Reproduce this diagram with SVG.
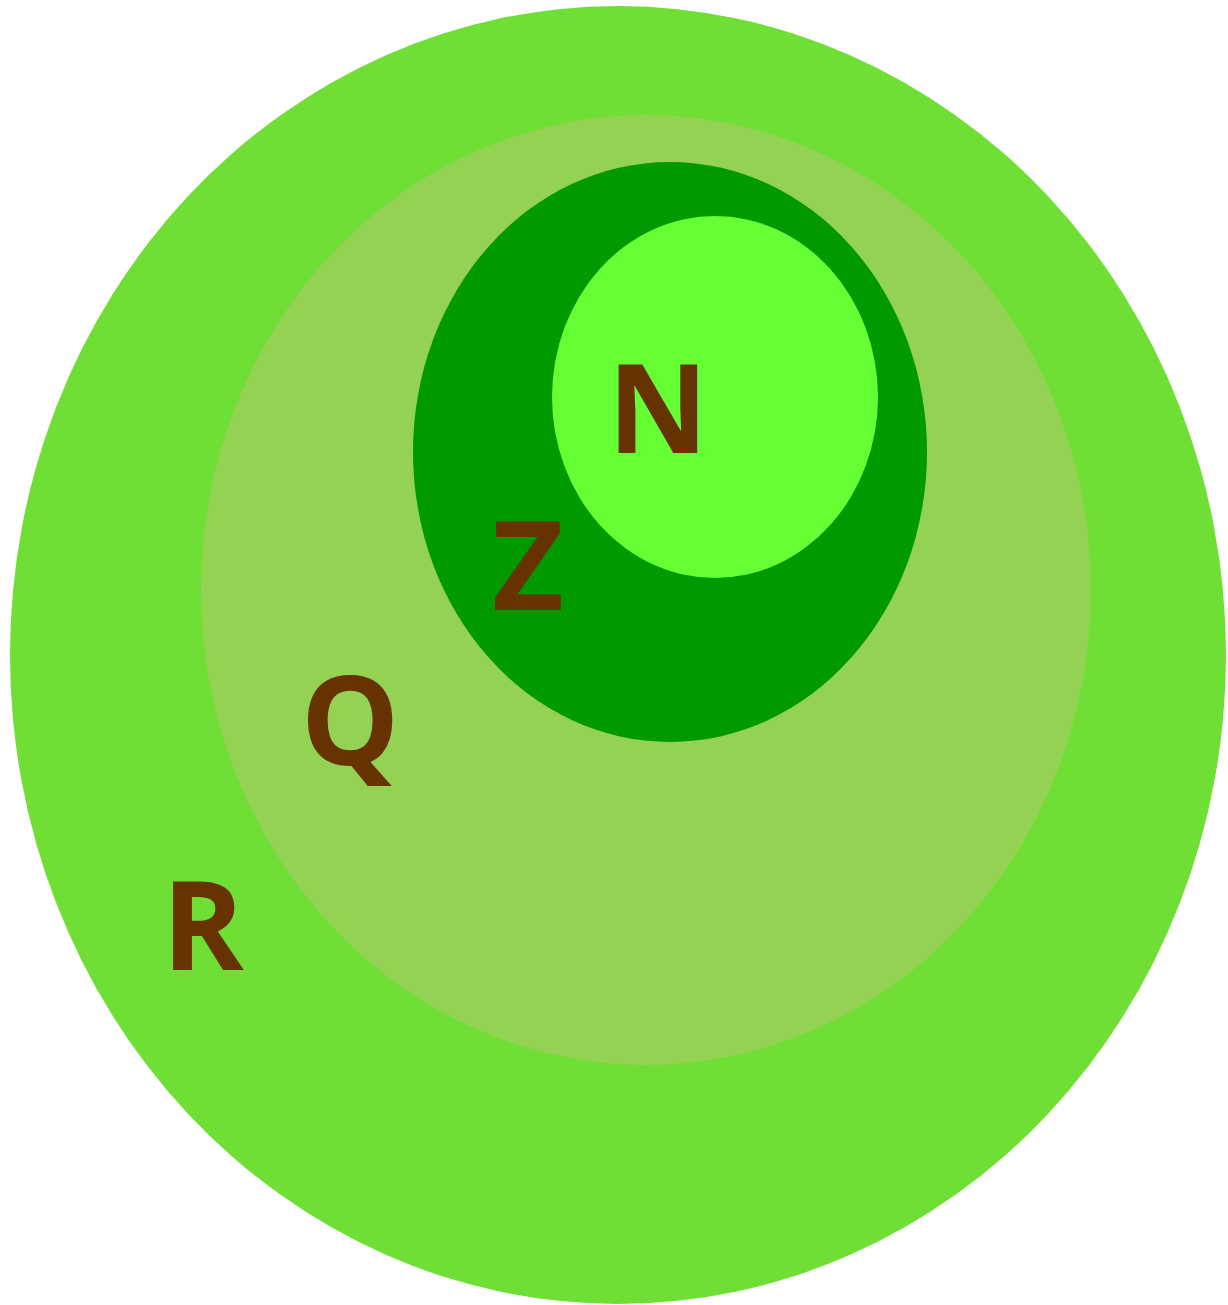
<svg xmlns="http://www.w3.org/2000/svg" width="1228" height="1305" viewBox="0 0 1228 1305">
<style>
.lbl{font-family:"Open Sans","Liberation Sans",sans-serif;font-weight:bold;font-size:124px;fill:#663300;text-anchor:middle}
</style>
<rect width="1228" height="1305" fill="#ffffff"/>
<g id="R"><ellipse cx="618" cy="655" rx="608" ry="649" fill="#6FDF35"/><text class="lbl" x="203" y="970">R</text></g>
<g id="Q"><ellipse cx="646" cy="590" rx="445" ry="475" fill="#93D252"/><text class="lbl" x="350" y="765">Q</text></g>
<g id="Z"><ellipse cx="670" cy="452" rx="257" ry="290" fill="#009900"/><text class="lbl" x="528" y="610">Z</text></g>
<g id="N"><ellipse cx="715" cy="397" rx="163" ry="181" fill="#66FF33"/><text class="lbl" x="658" y="453">N</text></g>
<g id="connectors"/>
</svg>
